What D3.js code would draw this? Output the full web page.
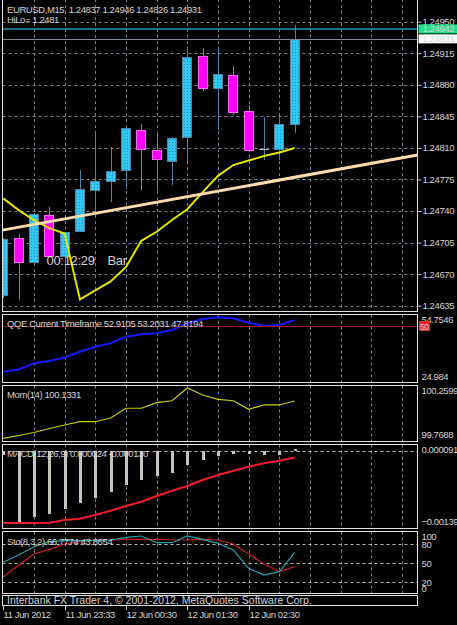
<!DOCTYPE html>
<html>
<head>
<meta charset="utf-8">
<script src="https://cdn.jsdelivr.net/npm/d3@7"></script>
<style>
  body { margin: 0; background: #000; }
  svg { display: block; font-family: "Liberation Sans", Arial, sans-serif; }
  text { font-size: 9.5px; letter-spacing: -0.4px; fill: #d4d4d4; white-space: pre; }
</style>
</head>
<body>
<div id="chart"></div>
<script>
// ---- data ----
var symbolTitle = "EURUSD,M15  1.24837 1.24946 1.24826 1.24931";
var hiLoTitle = "HiLo= 1.2481";
var open  = [1.24647, 1.24710, 1.24684, 1.24736, 1.24690, 1.24718, 1.24763, 1.24773, 1.24785, 1.24830, 1.24808, 1.24796, 1.24822, 1.24912, 1.24876, 1.24891, 1.24851, 1.24809, 1.24809, 1.24837];
var high  = [1.24710, 1.24714, 1.24738, 1.24744, 1.24717, 1.24785, 1.24828, 1.24811, 1.24832, 1.24836, 1.24827, 1.24822, 1.24917, 1.24921, 1.24921, 1.24901, 1.24858, 1.24844, 1.24844, 1.24946];
var low   = [1.24644, 1.24641, 1.24683, 1.24689, 1.24663, 1.24717, 1.24737, 1.24750, 1.24764, 1.24763, 1.24763, 1.24769, 1.24792, 1.24873, 1.24830, 1.24846, 1.24808, 1.24797, 1.24797, 1.24826];
var close = [1.24709, 1.24683, 1.24737, 1.24690, 1.24717, 1.24764, 1.24773, 1.24784, 1.24832, 1.24809, 1.24798, 1.24821, 1.24911, 1.24877, 1.24892, 1.24850, 1.24808, 1.24809, 1.24836, 1.24931];
var hiLo  = [1.24754, 1.24741, 1.24730, 1.24721, 1.24715, 1.24642, 1.24652, 1.24662, 1.24678, 1.24707, 1.24717, 1.24730, 1.24742, 1.24761, 1.24779, 1.24791, 1.24796, 1.24801, 1.24805, 1.24810];
var trendAnchors = [[0, 1.24719], [26, 1.24799]];
var markLine = 1.24942;
var bidLine = 1.24931;
var priceTicks = [1.24635, 1.24670, 1.24705, 1.24740, 1.24775, 1.24810, 1.24845, 1.24880, 1.24915, 1.24950];

var qqeTitle = "QQE Current Timeframe 52.9105 53.2031 47.8194";
var qqe = [28.85, 29.87, 32.75, 33.82, 35.45, 38.15, 40.47, 42.06, 45.13, 46.24, 46.71, 48.24, 51.36, 53.36, 54.15, 53.69, 51.64, 50.10, 50.57, 52.91];
var qqeRange = [24.984, 54.7546];
var qqeLevel = 50;

var momTitle = "Mom(14) 100.1331";
var mom = [99.7707, 99.798, 99.827, 99.866, 99.900, 99.932, 99.932, 99.968, 100.063, 100.063, 100.117, 100.136, 100.2599, 100.192, 100.150, 100.136, 100.053, 100.095, 100.095, 100.1331];
var momRange = [99.7688, 100.2599];

var macdTitle = "MACD(12,26,9) 0.000024 -0.000130";
var macdHist = [-0.000083, -0.001366, -0.001269, -0.001218, -0.001121, -0.001012, -0.000904, -0.000789, -0.000660, -0.000564, -0.000487, -0.000423, -0.000275, -0.000179, -0.000096, -0.000063, -0.000063, -0.000083, -0.000083, 0.000024];
var macdSignal = [-0.00139, -0.00139, -0.00139, -0.001385, -0.001333, -0.001308, -0.001237, -0.001154, -0.001064, -0.000981, -0.000871, -0.000769, -0.000679, -0.000564, -0.000467, -0.000385, -0.000308, -0.000242, -0.000192, -0.000130];
var macdRange = [-0.00139, 0.000091];

var stoTitle = "Sto(8,3,2) 66.7774 43.8654";
var stoMain   = [50.7, 62.4, 75.7, 83.7, 85.3, 85.3, 85.3, 86.4, 90.7, 92.8, 82.1, 82.1, 92.8, 87.5, 81.1, 70.4, 41.1, 30.4, 35.7, 66.78];
var stoSignal = [27.7, 46.4, 64.0, 71.5, 80.0, 83.7, 86.4, 86.4, 87.5, 87.5, 87.5, 86.4, 86.4, 87.5, 86.4, 80.0, 64.0, 48.0, 35.7, 43.87];
var stoLevels = [80, 50, 20];

var gridBars = [2, 4, 6, 8, 10, 12, 14, 16, 18, 20, 22, 24, 26];
var timeBars = [0, 4, 8, 12, 16];
var timeLabels = ["11 Jun 2012", "11 Jun 23:33", "12 Jun 00:30", "12 Jun 01:30", "12 Jun 02:30"];
var footerText = "Interbank FX Trader 4, \u00a9 2001-2012, MetaQuotes Software Corp.";
var timerText = "00:12:29";
var barText = "Bar";

// ---- layout ----
var W = 457, H = 625;
var L = 2.5, R = 417.5;
var gridColor = "#74828f";
var bullFill = "#33c8f4", bullLine = "#4a88ab", bearFill = "#ff00ff", bearLine = "#e040e0";

var svg = d3.select("#chart").append("svg")
    .attr("width", W).attr("height", H)
    .style("background", "#000");

var defs = svg.append("defs");
var pat = defs.append("pattern").attr("id", "dots")
    .attr("width", 3).attr("height", 3).attr("patternUnits", "userSpaceOnUse");
pat.append("rect").attr("width", 3).attr("height", 3).attr("fill", bullFill);
pat.append("rect").attr("x", 1).attr("y", 1).attr("width", 1).attr("height", 1).attr("fill", "#1f8fb8");

var x = d3.scaleLinear().domain([0, 19]).range([3.3, 294.7]);
function px(i) { return Math.round(x(i)); }

function makePanel(id, top, bottom) {
  defs.append("clipPath").attr("id", "clip-" + id)
    .append("rect").attr("x", L).attr("y", top).attr("width", R - L).attr("height", bottom - top);
  var g = svg.append("g");
  var inner = g.append("g").attr("clip-path", "url(#clip-" + id + ")");
  // vertical grid
  inner.selectAll("line.vgrid").data(gridBars).enter().append("line")
    .attr("x1", function(d) { return px(d) + 0.5; })
    .attr("x2", function(d) { return px(d) + 0.5; })
    .attr("y1", top).attr("y2", bottom)
    .attr("stroke", gridColor).attr("stroke-dasharray", "3,3");
  return {g: g, inner: inner, top: top, bottom: bottom};
}

function border(p) {
  p.g.append("rect").attr("x", L).attr("y", p.top).attr("width", R - L).attr("height", p.bottom - p.top)
    .attr("fill", "none").attr("stroke", "#e2e2e2");
}

function label(g, txt, xx, yy, color) {
  return g.append("text").attr("x", xx).attr("y", yy).attr("fill", color || "#d4d4d4").text(txt);
}

// ================= main chart =================
var main = makePanel("main", -1, 311.5);
var y = d3.scaleLinear().domain([1.24635, 1.24950]).range([305.7, 21.7]);

main.inner.selectAll("line.hgrid").data(priceTicks).enter().append("line")
  .attr("x1", L).attr("x2", R)
  .attr("y1", function(d) { return Math.round(y(d)) + 0.5; })
  .attr("y2", function(d) { return Math.round(y(d)) + 0.5; })
  .attr("stroke", gridColor).attr("stroke-dasharray", "3,3");

var bars = open.map(function(o, i) { return {i: i, o: o, h: high[i], l: low[i], c: close[i]}; });
var candle = main.inner.selectAll("g.candle").data(bars).enter().append("g");
candle.append("line")
  .attr("x1", function(d) { return px(d.i) + 0.5; })
  .attr("x2", function(d) { return px(d.i) + 0.5; })
  .attr("y1", function(d) { return Math.round(y(d.h)); })
  .attr("y2", function(d) { return Math.round(y(d.l)); })
  .attr("stroke", function(d) { return d.c < d.o ? bearLine : bullLine; });
candle.filter(function(d) { return d.c !== d.o; }).append("rect")
  .attr("x", function(d) { return px(d.i) - 4.5; })
  .attr("width", 9)
  .attr("y", function(d) { return Math.round(y(Math.max(d.o, d.c))) + 0.5; })
  .attr("height", function(d) { return Math.max(1, Math.round(y(Math.min(d.o, d.c))) - Math.round(y(Math.max(d.o, d.c)))); })
  .attr("fill", function(d) { return d.c < d.o ? bearFill : "url(#dots)"; })
  .attr("stroke", function(d) { return d.c < d.o ? "#ff66ff" : bullLine; });
candle.filter(function(d) { return d.c === d.o; }).append("line")
  .attr("x1", function(d) { return px(d.i) - 5; })
  .attr("x2", function(d) { return px(d.i) + 5; })
  .attr("y1", function(d) { return Math.round(y(d.c)) + 0.5; })
  .attr("y2", function(d) { return Math.round(y(d.c)) + 0.5; })
  .attr("stroke", "#9cc4d6");

// HiLo line
main.inner.append("path").datum(hiLo)
  .attr("fill", "none").attr("stroke", "#e4e400").attr("stroke-width", 2)
  .attr("d", d3.line().x(function(d, i) { return x(i); }).y(function(d) { return y(d); }));

// trend line, extended to both panel edges
var slope = (trendAnchors[1][1] - trendAnchors[0][1]) / (trendAnchors[1][0] - trendAnchors[0][0]);
var trendEnds = [x.invert(L), x.invert(R)].map(function(b) {
  return [b, trendAnchors[0][1] + (b - trendAnchors[0][0]) * slope];
});
main.inner.append("path").datum(trendEnds)
  .attr("fill", "none").attr("stroke", "#fbdcae").attr("stroke-width", 3)
  .attr("d", d3.line().x(function(d) { return x(d[0]); }).y(function(d) { return y(d[1]); }));

// horizontal lines
main.inner.append("line").attr("x1", L).attr("x2", R)
  .attr("y1", y(markLine)).attr("y2", y(markLine))
  .attr("stroke", "#1f9ab4").attr("stroke-width", 1.5);
main.inner.append("line").attr("x1", L).attr("x2", R)
  .attr("y1", Math.round(y(bidLine)) + 0.5).attr("y2", Math.round(y(bidLine)) + 0.5)
  .attr("stroke", "#7a8a98");

border(main);

// price axis
var priceAxis = svg.append("g").attr("transform", "translate(" + R + ",0)")
  .call(d3.axisRight(y).tickValues(priceTicks).tickSize(4).tickPadding(1).tickFormat(d3.format(".5f")));
priceAxis.select(".domain").remove();
priceAxis.selectAll("line").attr("stroke", "#c8c8c8");
priceAxis.selectAll("text").attr("fill", "#d4d4d4").style("font-size", "9.5px").attr("dy", "0.3em");

// price tags
function priceTag(v, bg) {
  var g = svg.append("g").attr("transform", "translate(" + (R + 1) + "," + y(v) + ")");
  g.append("rect").attr("x", 0).attr("y", -4.5).attr("width", 40).attr("height", 9).attr("fill", bg);
  g.append("text").attr("x", 4).attr("y", 3.5).attr("fill", "#000").text(d3.format(".5f")(v));
}
priceTag(bidLine, "#ffffff");
priceTag(markLine, "#20e08a");

label(main.g, symbolTitle, 7, 12.5);
label(main.g, hiLoTitle, 7, 23.3);
main.g.append("text").attr("x", 46.5).attr("y", 265).style("font-size", "13px").style("letter-spacing", "-0.3px")
  .attr("fill", "#d8d8d8").text(timerText);
main.g.append("text").attr("x", 107.5).attr("y", 265).style("font-size", "13px").style("letter-spacing", "-0.3px")
  .attr("fill", "#1fb0cc").text(barText);

// ================= QQE =================
var pq = makePanel("qqe", 314.5, 382.5);
var yq = d3.scaleLinear().domain(qqeRange).range([380, 316]);
pq.g.append("line").attr("x1", L).attr("x2", R + 2)
  .attr("y1", Math.round(yq(qqeLevel)) + 0.5).attr("y2", Math.round(yq(qqeLevel)) + 0.5)
  .attr("stroke", "#a21818");
pq.inner.append("path").datum(qqe)
  .attr("fill", "none").attr("stroke", "#1818ff").attr("stroke-width", 2)
  .attr("d", d3.line().x(function(d, i) { return x(i); }).y(function(d) { return yq(d); }));
border(pq);
label(pq.g, qqeTitle, 7, 327);
label(svg, d3.format(".4f")(qqeRange[1]), 421.5, 323.3);
label(svg, d3.format(".3f")(qqeRange[0]), 421.5, 380);
svg.append("rect").attr("x", 419).attr("y", Math.round(yq(qqeLevel)) - 5).attr("width", 11).attr("height", 10).attr("fill", "#e02a2a");
svg.append("text").attr("x", 420).attr("y", Math.round(yq(qqeLevel)) + 4).attr("fill", "#ffb4b4").style("font-size", "8.5px").text(qqeLevel);

// ================= Momentum =================
var pm = makePanel("mom", 385.5, 441.5);
var ym = d3.scaleLinear().domain(momRange).range([438.5, 388]);
pm.inner.append("path").datum(mom)
  .attr("fill", "none").attr("stroke", "#cccc00").attr("stroke-width", 1.2)
  .attr("d", d3.line().x(function(d, i) { return x(i); }).y(function(d) { return ym(d); }));
border(pm);
label(pm.g, momTitle, 7, 398.3);
label(svg, d3.format(".4f")(momRange[1]), 421.5, 394);
label(svg, d3.format(".4f")(momRange[0]), 421.5, 438.3);

// ================= MACD =================
var pd = makePanel("macd", 444.5, 528.5);
var yd = d3.scaleLinear().domain(macdRange).range([523, 446]);
label(pd.g, macdTitle, 7, 456.5);
pd.inner.append("line").attr("x1", L).attr("x2", R)
  .attr("y1", Math.round(yd(0)) + 0.5).attr("y2", Math.round(yd(0)) + 0.5)
  .attr("stroke", "#b8b8b8").attr("stroke-dasharray", "3,3");
pd.inner.selectAll("rect.hist").data(macdHist).enter().append("rect")
  .attr("x", function(d, i) { return px(i) - 1; })
  .attr("width", 3)
  .attr("y", function(d) { return Math.round(yd(Math.max(0, d))); })
  .attr("height", function(d) { return Math.max(1, Math.abs(Math.round(yd(d)) - Math.round(yd(0)))); })
  .attr("fill", "#c4c4bc");
pd.inner.append("path").datum(macdSignal)
  .attr("fill", "none").attr("stroke", "#f21c2c").attr("stroke-width", 2)
  .attr("d", d3.line().x(function(d, i) { return x(i); }).y(function(d) { return yd(d); }));
border(pd);
label(svg, "0.000091", 421.5, 453.3);
label(svg, d3.format(".5f")(macdRange[0]), 421.5, 525);

// ================= Stochastic =================
var ps = makePanel("sto", 531.5, 593.5);
var ys = d3.scaleLinear().domain([0, 100]).range([594, 531.5]);
ps.inner.selectAll("line.lvl").data(stoLevels).enter().append("line")
  .attr("x1", L).attr("x2", R)
  .attr("y1", function(d) { return Math.round(ys(d)) + 0.5; })
  .attr("y2", function(d) { return Math.round(ys(d)) + 0.5; })
  .attr("stroke", "#b8b8b8").attr("stroke-dasharray", "3,3");
ps.inner.append("path").datum(stoSignal)
  .attr("fill", "none").attr("stroke", "#c8202c").attr("stroke-width", 1.2)
  .attr("d", d3.line().x(function(d, i) { return x(i); }).y(function(d) { return ys(d); }));
ps.inner.append("path").datum(stoMain)
  .attr("fill", "none").attr("stroke", "#1ea4b0").attr("stroke-width", 1.2)
  .attr("d", d3.line().x(function(d, i) { return x(i); }).y(function(d) { return ys(d); }));
border(ps);
label(ps.g, stoTitle, 7, 545);
label(svg, "100", 421.5, 540);
stoLevels.forEach(function(v) { label(svg, String(v), 421.5, Math.round(ys(v)) + 3.5); });
label(svg, "0", 421.5, 592);

// ================= footer + time axis =================
svg.append("rect").attr("x", L).attr("y", 595.5).attr("width", R - L).attr("height", 10)
  .attr("fill", "none").attr("stroke", "#e2e2e2");
label(svg, footerText, 7, 604).style("font-size", "10.5px").style("letter-spacing", "0px");

var timeAxis = svg.append("g");
timeAxis.selectAll("line").data(timeBars).enter().append("line")
  .attr("x1", function(d) { return px(d) + 0.5; })
  .attr("x2", function(d) { return px(d) + 0.5; })
  .attr("y1", 606).attr("y2", 610)
  .attr("stroke", "#c8c8c8");
timeAxis.selectAll("text").data(timeBars).enter().append("text")
  .attr("x", function(d) { return px(d) + 0.5; })
  .attr("y", 617.5)
  .attr("fill", "#d4d4d4")
  .text(function(d, i) { return timeLabels[i]; });
</script>
</body>
</html>
